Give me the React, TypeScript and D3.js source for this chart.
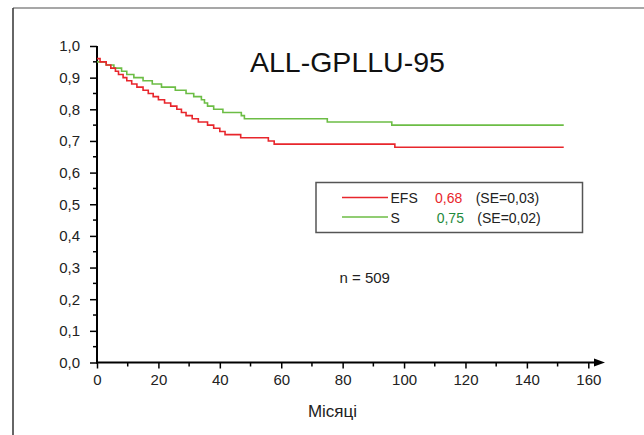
import React, { useRef, useEffect } from 'react';
import * as d3 from 'd3';

// Kaplan-Meier steps (months, probability)
const efsTime = [0, 1, 3, 4.5, 6, 7, 8.5, 9.7, 11.3, 13, 15, 16.7, 18.3, 20, 22, 24, 26, 27.5, 29, 31, 33, 36, 38, 40, 41.7, 46.8, 55.8, 57.7, 97, 152];
const efsSurv = [0.96, 0.95, 0.94, 0.93, 0.92, 0.91, 0.9, 0.89, 0.88, 0.87, 0.86, 0.85, 0.84, 0.83, 0.82, 0.81, 0.8, 0.79, 0.78, 0.77, 0.76, 0.75, 0.74, 0.73, 0.72, 0.71, 0.7, 0.69, 0.68, 0.68];

const osTime = [0, 3, 5.5, 8, 9.7, 12, 15, 18, 21, 25.5, 29, 31.5, 34, 35, 36, 38, 41, 47, 48, 75, 96, 152];
const osSurv = [0.95, 0.94, 0.93, 0.92, 0.91, 0.9, 0.89, 0.88, 0.87, 0.86, 0.85, 0.84, 0.83, 0.82, 0.81, 0.8, 0.79, 0.78, 0.77, 0.76, 0.75, 0.75];

const xTicks = [0, 20, 40, 60, 80, 100, 120, 140, 160];
const yTicks = [0, 0.1, 0.2, 0.3, 0.4, 0.5, 0.6, 0.7, 0.8, 0.9, 1.0];

const legendNames = ['EFS', 'S'];
const legendValues = ['0,68', '0,75'];
const legendSE = ['(SE=0,03)', '(SE=0,02)'];

const RED = '#e8262c';
const GREEN = '#6cbd45';
const GREEN_TEXT = '#1f8a3c';

const App = () => {
  const ref = useRef<SVGSVGElement>(null);

  useEffect(() => {
    const svg = d3.select(ref.current);
    svg.selectAll('*').remove();
    const font = '"Liberation Sans", Arial, sans-serif';

    const x = d3.scaleLinear().domain([0, 160]).range([97, 588.3]);
    const y = d3.scaleLinear().domain([0, 1]).range([362.5, 46]);

    // outer frame (top + left only)
    svg.append('line').attr('x1', 13).attr('x2', 644).attr('y1', 8).attr('y2', 8)
      .attr('stroke', '#8a8a8a').attr('stroke-width', 1.5);
    svg.append('line').attr('x1', 13).attr('x2', 13).attr('y1', 8).attr('y2', 435)
      .attr('stroke', '#333').attr('stroke-width', 1.5);

    // y axis
    const yAxis = d3.axisLeft(y)
      .tickValues(yTicks)
      .tickFormat((d) => d3.format('.1f')(d as number).replace('.', ','))
      .tickSize(7)
      .tickPadding(10);
    const gy = svg.append('g').attr('transform', `translate(${x(0)},0)`).call(yAxis);
    gy.select('.domain').remove();
    gy.selectAll('line').attr('stroke', '#000').attr('stroke-width', 1.5);
    gy.selectAll('text').attr('font-family', font).attr('font-size', 15).attr('fill', '#222');

    svg.append('g').selectAll('line')
      .data(d3.range(0.05, 1, 0.1))
      .enter().append('line')
      .attr('x1', x(0) - 4).attr('x2', x(0))
      .attr('y1', (d) => y(d)).attr('y2', (d) => y(d))
      .attr('stroke', '#000').attr('stroke-width', 1.5);

    svg.append('line').attr('x1', x(0)).attr('x2', x(0)).attr('y1', y(1)).attr('y2', y(0) + 1)
      .attr('stroke', '#000').attr('stroke-width', 2);

    // x axis
    const xAxis = d3.axisBottom(x).tickValues(xTicks).tickSize(6).tickPadding(6);
    const gx = svg.append('g').attr('transform', `translate(0,${y(0)})`).call(xAxis);
    gx.select('.domain').remove();
    gx.selectAll('line').attr('stroke', '#000').attr('stroke-width', 1.5);
    gx.selectAll('text').attr('font-family', font).attr('font-size', 15).attr('fill', '#222');

    svg.append('g').selectAll('line')
      .data(d3.range(10, 160, 20))
      .enter().append('line')
      .attr('x1', (d) => x(d)).attr('x2', (d) => x(d))
      .attr('y1', y(0)).attr('y2', y(0) + 4)
      .attr('stroke', '#000').attr('stroke-width', 1.5);

    svg.append('line').attr('x1', x(0) - 1).attr('x2', 596).attr('y1', y(0)).attr('y2', y(0))
      .attr('stroke', '#000').attr('stroke-width', 2);
    svg.append('path')
      .attr('d', `M594,${y(0) - 4}L605,${y(0)}L594,${y(0) + 4}Z`)
      .attr('fill', '#000');

    // curves
    const line = d3.line<[number, number]>()
      .x((d) => x(d[0]))
      .y((d) => y(d[1]))
      .curve(d3.curveStepAfter);

    const osData = osTime.map((t, i) => [t, osSurv[i]] as [number, number]);
    const efsData = efsTime.map((t, i) => [t, efsSurv[i]] as [number, number]);

    svg.append('path').attr('d', line(osData)).attr('fill', 'none')
      .attr('stroke', GREEN).attr('stroke-width', 1.6);
    svg.append('path').attr('d', line(efsData)).attr('fill', 'none')
      .attr('stroke', RED).attr('stroke-width', 1.6);

    // title
    svg.append('text').attr('x', 250).attr('y', 72)
      .attr('font-family', font).attr('font-size', 28.5).attr('fill', '#111')
      .text('ALL-GPLLU-95');

    // legend
    svg.append('rect').attr('x', 316).attr('y', 182.5).attr('width', 266.5).attr('height', 50)
      .attr('fill', 'none').attr('stroke', '#555').attr('stroke-width', 1.5);
    const rows = [0, 1];
    const rowY = [203, 222.5];
    const colors = [RED, GREEN];
    const valueColors = [RED, GREEN_TEXT];
    const g = svg.append('g').attr('font-family', font).attr('font-size', 14);
    rows.forEach((i) => {
      g.append('line').attr('x1', 342).attr('x2', 388)
        .attr('y1', rowY[i] - 5.5).attr('y2', rowY[i] - 5.5)
        .attr('stroke', colors[i]).attr('stroke-width', 1.6);
      g.append('text').attr('x', 390.5).attr('y', rowY[i]).attr('fill', '#222').text(legendNames[i]);
      g.append('text').attr('x', i === 0 ? 435 : 436.7).attr('y', rowY[i])
        .attr('fill', valueColors[i]).text(legendValues[i]);
      g.append('text').attr('x', i === 0 ? 475.7 : 477.3).attr('y', rowY[i])
        .attr('fill', '#222').text(legendSE[i]);
    });

    svg.append('text').attr('x', 339.5).attr('y', 283)
      .attr('font-family', font).attr('font-size', 15).attr('fill', '#222')
      .text('n = 509');

    svg.append('text').attr('x', 332.5).attr('y', 417).attr('text-anchor', 'middle')
      .attr('font-family', font).attr('font-size', 17).attr('fill', '#222')
      .text('Місяці');
  }, []);

  return (
    <div style={{ position: 'fixed', left: 0, top: 0, background: '#fff' }}>
      <svg ref={ref} width={644} height={435}></svg>
    </div>
  );
};

export default App;
